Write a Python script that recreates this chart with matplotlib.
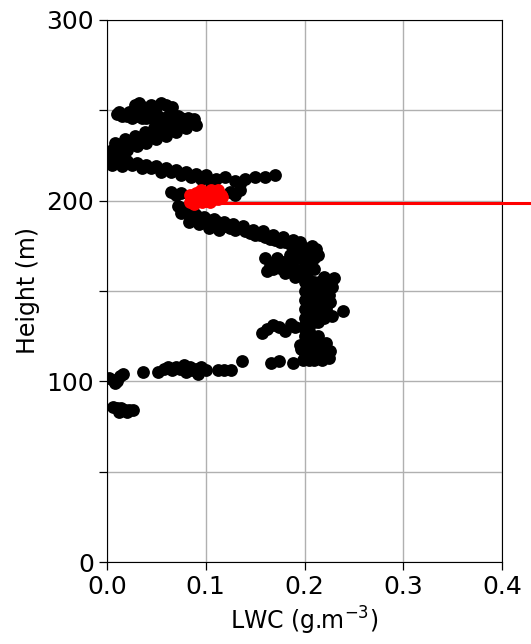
import numpy as np
import matplotlib.pyplot as plt

# LWC profile samples (g m-3) against height (m)
lwc = [
    # low-level patch
    0.006, 0.010, 0.014, 0.018, 0.022, 0.026, 0.012, 0.020,
    0.002, 0.006, 0.010, 0.013, 0.016, 0.008,
    0.036,
    0.052, 0.058, 0.062, 0.066, 0.070, 0.074, 0.078, 0.080, 0.084, 0.086,
    0.090, 0.092, 0.095, 0.100,
    0.112, 0.118, 0.126, 0.137, 0.166, 0.174, 0.188,
    # main cloud body
    0.195, 0.200, 0.205, 0.210, 0.215, 0.220, 0.225, 0.200, 0.205, 0.210, 0.215,
    0.157, 0.162, 0.168, 0.174, 0.180, 0.186, 0.190,
    0.200, 0.205, 0.210, 0.215, 0.220, 0.225, 0.205, 0.210, 0.200, 0.215,
    0.239, 0.228,
    0.190, 0.196, 0.202, 0.208, 0.214, 0.160, 0.165, 0.170, 0.162, 0.175,
    0.180, 0.186, 0.190, 0.200, 0.205, 0.210, 0.215, 0.220, 0.225, 0.230,
    0.195, 0.200, 0.185,
    0.192, 0.198, 0.204, 0.210, 0.200, 0.206, 0.212, 0.168, 0.172, 0.178,
    0.184, 0.190, 0.196, 0.200, 0.206, 0.212, 0.218, 0.224, 0.200, 0.210,
    0.204, 0.210, 0.216, 0.222, 0.200, 0.208, 0.214, 0.220, 0.198, 0.204,
    0.196, 0.200, 0.208, 0.214, 0.218, 0.222, 0.226, 0.210, 0.198, 0.218,
    0.228, 0.226, 0.218,
    # descending branch below 200 m
    0.072, 0.075, 0.080, 0.085, 0.090, 0.095, 0.100, 0.105, 0.110, 0.115,
    0.120, 0.125, 0.130, 0.135, 0.140, 0.145, 0.150, 0.155, 0.160, 0.165,
    0.170, 0.175, 0.180, 0.185,
    0.078, 0.088, 0.098, 0.108, 0.118, 0.128, 0.138, 0.148, 0.158, 0.168,
    0.178, 0.188, 0.195, 0.083, 0.093, 0.103, 0.113,
    # around 200 m
    0.065, 0.070, 0.075, 0.125, 0.130, 0.135,
    0.110, 0.120, 0.130, 0.140, 0.150, 0.160, 0.170, 0.135,
    # upper zig-zag
    0.004, 0.010, 0.015, 0.020, 0.030, 0.040, 0.050, 0.060, 0.070, 0.080,
    0.090, 0.100, 0.025, 0.045, 0.065, 0.085,
    0.005, 0.015, 0.035, 0.055, 0.075, 0.095, 0.105, 0.012,
    0.005, 0.010, 0.015, 0.020, 0.025, 0.030, 0.035, 0.040, 0.045, 0.050,
    0.055, 0.060, 0.065, 0.070, 0.075, 0.080, 0.085, 0.003,
    0.008, 0.018, 0.028, 0.038, 0.048, 0.058, 0.068, 0.078,
    0.010, 0.020, 0.030, 0.040, 0.050, 0.060, 0.070, 0.080, 0.090,
    0.010, 0.015, 0.020, 0.025, 0.030, 0.035, 0.040, 0.045, 0.050, 0.055,
    0.060, 0.065, 0.070, 0.075, 0.080, 0.085,
    0.012, 0.022, 0.032, 0.042, 0.052, 0.062, 0.072, 0.082, 0.088,
    0.028, 0.032, 0.036, 0.045, 0.050, 0.055, 0.060, 0.066,
]
height = [
    86, 85, 85, 84, 84, 84, 83, 83,
    102, 101, 100, 103, 104, 99,
    105,
    105, 107, 108, 106, 108, 107, 109, 105, 108, 106,
    107, 104, 108, 106,
    106, 106, 106, 111, 110, 111, 110,
    120, 115, 112, 118, 114, 116, 113, 125, 128, 123, 120,
    127, 129, 131, 130, 128, 132, 130,
    135, 140, 145, 138, 142, 148, 150, 133, 145, 152,
    139, 136,
    176, 174, 172, 175, 170, 168, 164, 166, 161, 163,
    160, 165, 158, 160, 156, 162, 155, 158, 154, 157,
    168, 165, 170,
    170, 168, 166, 168, 174, 171, 173, 162, 168, 166,
    162, 162, 159, 155, 152, 150, 152, 150, 150, 155,
    145, 140, 144, 140, 140, 136, 133, 135, 130, 132,
    118, 122, 120, 125, 118, 121, 117, 112, 112, 112,
    152, 144, 147,
    197, 193, 194, 191, 192, 189, 190, 188, 189, 186,
    186, 185, 184, 185, 183, 182, 181, 181, 180, 179,
    178, 177, 177, 176,
    196, 193, 191, 190, 188, 187, 186, 184, 183, 181,
    180, 178, 177, 188, 187, 185, 184,
    205, 203, 204, 205, 203, 206,
    212, 213, 211, 212, 213, 213, 214, 209,
    224, 223, 223, 222, 221, 220, 219, 218, 217, 216,
    215, 214, 220, 218, 216, 213,
    220, 219, 218, 216, 214, 212, 210, 226,
    228, 229, 230, 231, 232, 233, 234, 235, 236, 237,
    238, 239, 240, 241, 242, 243, 244, 226,
    232, 234, 236, 238, 240, 242, 243, 245,
    225, 228, 230, 232, 234, 236, 238, 240, 242,
    248, 247, 247, 246, 247, 246, 246, 246, 245, 246,
    246, 245, 245, 246, 244, 243,
    249, 249, 248, 248, 247, 247, 247, 246, 245,
    253, 254, 252, 253, 252, 254, 253, 252,
]

# samples at the selected level
lwc_sel = [0.085, 0.090, 0.095, 0.100, 0.105, 0.110, 0.115, 0.090, 0.100, 0.108,
           0.084, 0.088, 0.096, 0.104, 0.112, 0.116, 0.084, 0.095, 0.105, 0.112]
height_sel = [202, 201, 203, 202, 203, 204, 203, 204, 200, 201,
              199, 198, 199, 199, 201, 202, 203, 206, 206, 206]

level = 198.5
level_x = [0.1, 0.45]

fig = plt.figure(figsize=(5.31, 6.44), dpi=100)
ax = fig.add_axes([0.2015, 0.1273, 0.7439, 0.8417])

ax.set_axisbelow(True)
ax.grid(True, color='#b0b0b0', lw=1.0)

ax.scatter(lwc, height, s=85, c='black', linewidths=0, zorder=3)
ax.scatter(lwc_sel, height_sel, s=85, c='red', linewidths=0, zorder=4)
ax.plot(level_x, [level, level], color='red', lw=2.2, clip_on=False, zorder=5)

ax.set_xlim(0, 0.4)
ax.set_ylim(0, 300)
ax.set_xticks([0.0, 0.1, 0.2, 0.3, 0.4])
ax.set_xticklabels(['0.0', '0.1', '0.2', '0.3', '0.4'])
ax.set_yticks(np.arange(0, 301, 50))
ax.set_yticklabels(['0', '', '100', '', '200', '', '300'])
ax.tick_params(labelsize=18, length=6, width=0.9)

ax.set_xlabel('LWC (g.m$^{-3}$)', fontsize=17)
ax.set_ylabel('Height (m)', fontsize=17)

fig.savefig('out.png', dpi=100)
